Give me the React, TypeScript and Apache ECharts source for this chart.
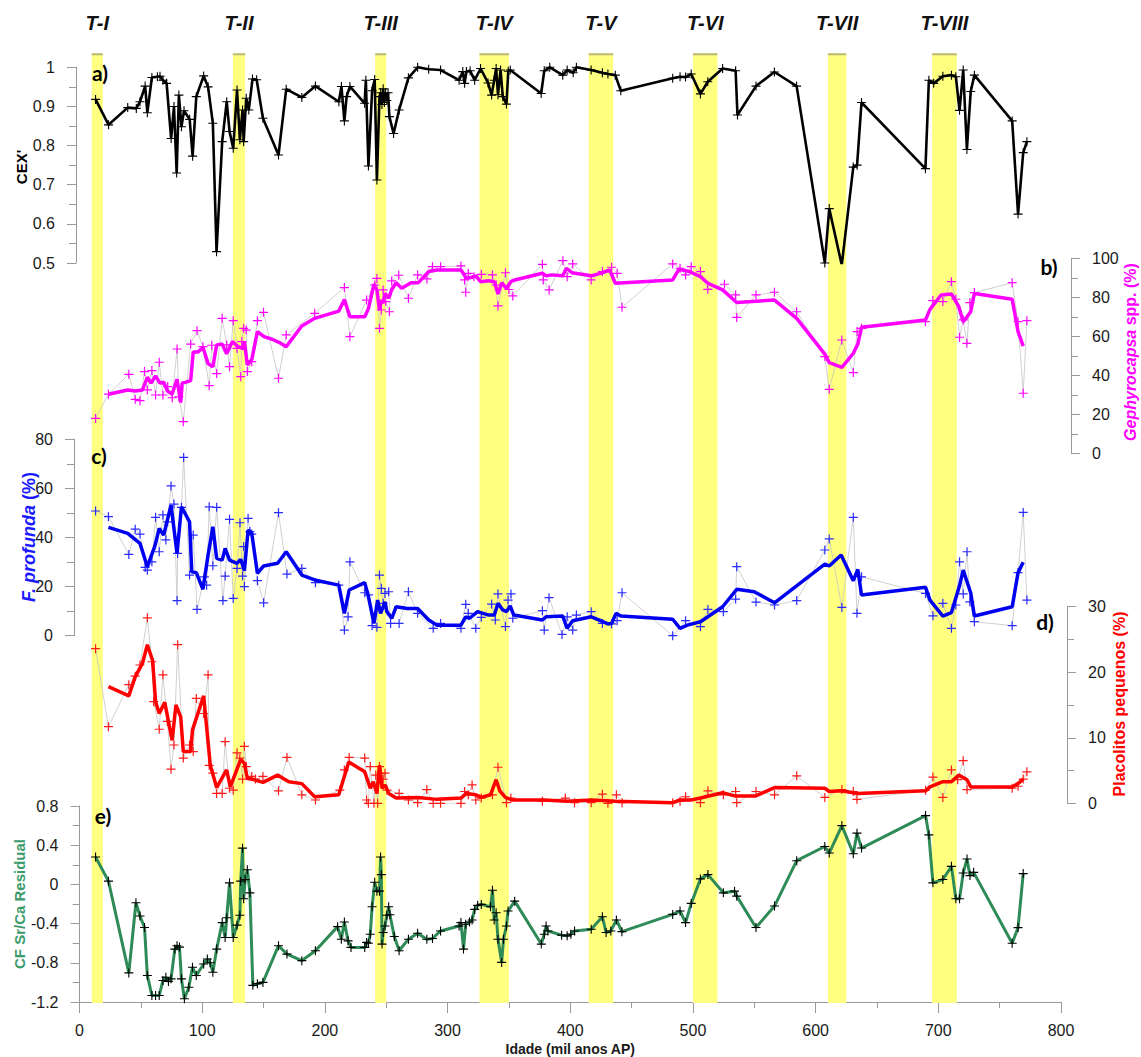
import React, { useEffect, useRef } from "react";
import * as echarts from "echarts";

// ---------- DATA ----------
const bandNames = ["T-I", "T-II", "T-III", "T-IV", "T-V", "T-VI", "T-VII", "T-VIII"];
const bandStart = [10, 125, 241, 326, 415, 500, 610, 695];
const bandEnd = [19, 135, 250, 350, 435, 520, 625, 715];

const xTickMin = 0;
const xTickMax = 800;

// a) CEX'
const cexAge = [13.1, 23.7, 39.3, 46.3, 49.3, 53.5, 55.3, 59.0, 63.5, 65.6, 68.0, 71.0, 74.7, 77.0, 79.2, 81.0, 83.1, 85.2, 89.8, 92.2, 95.2, 101.2, 104.8, 108.7, 111.7, 116.3, 120.0, 122.3, 125.3, 128.4, 130.7, 132.9, 133.8, 135.9, 138.0, 141.0, 144.4, 149.5, 162.2, 168.5, 181.2, 192.3, 211.4, 213.5, 215.9, 217.7, 220.4, 232.4, 233.4, 235.5, 238.5, 240.6, 242.4, 244.5, 245.5, 246.5, 247.5, 248.5, 249.5, 250.5, 251.5, 252.6, 256.0, 260.5, 268.1, 275.6, 284.6, 294.3, 309.4, 312.4, 313.9, 315.4, 318.4, 322.1, 326.9, 333.0, 335.9, 338.0, 339.6, 341.1, 343.2, 345.0, 348.0, 349.5, 351.1, 376.3, 378.8, 383.3, 393.9, 397.5, 402.4, 405.0, 417.0, 426.2, 430.7, 436.7, 441.2, 483.5, 489.5, 494.0, 498.6, 506.1, 512.1, 524.2, 534.8, 536.3, 551.4, 566.4, 584.5, 607.5, 611.1, 621.3, 630.7, 633.8, 637.4, 689.5, 692.3, 696.2, 703.7, 710.7, 714.3, 717.3, 720.3, 723.3, 726.4, 729.4, 760.2, 765.0, 769.2, 772.2];
const cexVal = [0.918, 0.853, 0.897, 0.895, 0.912, 0.952, 0.884, 0.974, 0.976, 0.977, 0.967, 0.959, 0.818, 0.9, 0.73, 0.929, 0.848, 0.889, 0.867, 0.773, 0.925, 0.978, 0.95, 0.857, 0.529, 0.81, 0.912, 0.836, 0.793, 0.942, 0.815, 0.891, 0.81, 0.921, 0.891, 0.97, 0.968, 0.87, 0.776, 0.944, 0.923, 0.952, 0.912, 0.951, 0.863, 0.925, 0.951, 0.908, 0.967, 0.748, 0.94, 0.969, 0.712, 0.925, 0.935, 0.905, 0.945, 0.91, 0.935, 0.915, 0.935, 0.874, 0.831, 0.891, 0.973, 1.0, 0.995, 0.993, 0.967, 0.989, 0.959, 0.989, 0.991, 0.967, 0.997, 0.96, 0.929, 0.967, 0.997, 0.93, 0.993, 0.925, 0.906, 0.99, 0.993, 0.933, 0.991, 1.0, 0.98, 0.993, 0.986, 1.0, 0.993, 0.986, 0.983, 0.98, 0.94, 0.972, 0.976, 0.975, 0.983, 0.932, 0.963, 0.997, 0.991, 0.878, 0.952, 0.988, 0.952, 0.5, 0.639, 0.495, 0.745, 0.75, 0.91, 0.741, 0.967, 0.959, 0.977, 0.98, 0.976, 0.89, 0.993, 0.79, 0.938, 0.98, 0.863, 0.625, 0.782, 0.81];

// b) Gephyrocapsa spp. (%)
const gephAge = [13.1, 23.6, 40.2, 45.4, 49.3, 53.0, 55.3, 59.0, 62.0, 65.0, 68.0, 71.9, 75.6, 79.5, 81.0, 84.6, 90.6, 95.8, 100.6, 105.7, 107.8, 111.8, 116.3, 120.0, 122.3, 125.3, 128.4, 131.4, 132.3, 133.8, 135.9, 136.8, 140.4, 145.0, 150.0, 162.2, 168.5, 191.7, 215.9, 220.4, 234.0, 240.6, 242.4, 244.5, 246.0, 247.5, 249.6, 252.6, 254.5, 260.2, 268.1, 275.6, 283.2, 287.7, 294.3, 310.9, 313.9, 314.8, 316.9, 321.5, 327.5, 336.6, 339.6, 341.1, 347.2, 350.0, 353.2, 377.3, 378.0, 382.8, 394.0, 397.5, 402.0, 417.0, 426.2, 433.7, 438.2, 442.2, 483.5, 489.5, 494.0, 498.6, 506.1, 512.1, 525.7, 534.8, 535.7, 551.4, 566.4, 584.5, 607.5, 611.1, 621.3, 630.7, 633.8, 637.4, 689.5, 695.5, 703.7, 710.7, 714.3, 717.3, 720.3, 723.3, 725.7, 729.4, 760.2, 765.0, 769.2, 772.2];
const gephVal = [17.9, 30.3, 40.5, 27.7, 27.0, 41.9, 32.5, 42.4, 29.9, 46.7, 29.9, 34.2, 28.5, 53.5, 29.0, 16.2, 56.0, 62.9, 54.7, 34.7, 55.4, 40.9, 69.2, 55.6, 44.4, 68.0, 53.8, 39.3, 57.3, 64.1, 63.2, 41.9, 47.0, 68.0, 72.3, 38.5, 60.7, 71.8, 85.0, 59.8, 78.6, 86.3, 89.7, 64.1, 73.5, 83.8, 77.8, 72.6, 88.4, 91.3, 79.5, 91.5, 89.4, 95.7, 95.7, 96.1, 88.9, 82.6, 92.3, 90.6, 91.8, 91.5, 86.3, 75.6, 92.6, 84.0, 80.7, 96.9, 88.9, 83.8, 98.8, 90.6, 97.1, 88.9, 93.2, 95.4, 92.3, 74.9, 97.1, 94.9, 91.5, 95.7, 93.2, 84.1, 86.7, 81.2, 69.7, 81.2, 82.6, 72.6, 49.6, 32.8, 58.1, 41.4, 62.4, 64.1, 67.5, 78.3, 77.8, 88.0, 79.0, 59.5, 68.4, 56.4, 77.3, 82.4, 87.5, 67.5, 30.8, 68.0];
const gephSmAge = [23.6, 39.3, 45.4, 51.4, 55.3, 58.3, 62.0, 65.6, 68.6, 71.9, 75.5, 79.5, 82.5, 83.7, 86.1, 90.6, 92.7, 96.7, 100.6, 104.8, 108.7, 111.8, 116.3, 119.9, 124.7, 129.0, 132.9, 134.4, 136.8, 140.4, 145.0, 150.4, 157.0, 163.0, 168.5, 181.2, 191.7, 211.3, 215.9, 220.4, 232.5, 235.5, 240.0, 242.4, 244.5, 246.0, 247.5, 249.0, 252.1, 254.5, 258.1, 262.6, 270.2, 276.2, 284.7, 291.3, 310.9, 315.4, 320.0, 323.0, 326.9, 333.5, 338.1, 341.1, 344.1, 348.0, 351.6, 354.7, 377.3, 380.3, 384.8, 393.9, 396.9, 401.4, 417.1, 424.6, 432.2, 436.7, 483.5, 488.6, 497.1, 506.1, 512.2, 524.2, 535.7, 566.5, 584.6, 607.5, 611.1, 621.4, 630.7, 634.4, 637.4, 689.6, 693.2, 702.3, 710.7, 716.7, 720.3, 723.4, 726.4, 729.4, 760.2, 765.0, 769.2];
const gephSmVal = [30.3, 32.5, 32.0, 32.5, 39.0, 36.0, 39.7, 36.0, 36.4, 31.8, 30.4, 38.0, 26.0, 36.0, 36.4, 37.3, 52.0, 52.0, 54.4, 46.0, 44.4, 55.6, 56.0, 51.0, 57.3, 54.7, 53.8, 57.3, 45.3, 48.0, 62.4, 59.8, 58.5, 56.8, 54.7, 65.3, 69.2, 72.9, 78.8, 70.0, 70.0, 74.2, 86.8, 83.8, 73.5, 78.6, 77.0, 82.0, 79.5, 84.0, 87.5, 84.6, 87.5, 87.5, 93.2, 94.0, 94.0, 89.7, 90.3, 91.0, 88.0, 88.5, 88.0, 81.7, 87.5, 84.6, 88.0, 88.9, 92.3, 91.0, 91.5, 91.0, 94.9, 92.6, 91.0, 92.3, 94.0, 87.2, 88.9, 94.4, 93.2, 90.6, 87.2, 83.8, 77.3, 78.6, 69.2, 50.9, 46.5, 44.1, 51.3, 56.0, 64.6, 68.4, 73.8, 81.2, 81.7, 75.2, 67.5, 70.0, 72.6, 82.0, 79.0, 62.4, 55.0];

// c) F. profunda (%)
const profAge = [13.1, 23.6, 40.2, 45.4, 49.3, 53.5, 55.3, 59.0, 62.0, 65.0, 68.0, 70.4, 71.9, 74.6, 77.0, 79.5, 80.0, 83.1, 84.9, 89.7, 92.7, 95.8, 101.8, 103.6, 105.7, 108.7, 111.8, 116.9, 118.7, 122.3, 125.3, 128.4, 130.8, 132.9, 133.8, 134.4, 137.4, 138.9, 140.4, 145.0, 150.1, 162.2, 169.1, 181.2, 192.3, 211.3, 215.9, 218.9, 220.4, 232.5, 235.5, 238.5, 242.4, 244.5, 246.0, 247.5, 249.0, 252.0, 253.6, 260.5, 268.1, 275.6, 288.3, 294.3, 310.9, 314.8, 316.9, 323.0, 327.5, 335.9, 338.9, 341.1, 347.2, 349.3, 351.7, 353.2, 377.3, 378.8, 382.7, 393.3, 397.5, 402.0, 405.0, 417.1, 426.2, 433.7, 438.2, 442.2, 483.5, 494.0, 506.1, 512.2, 524.8, 534.8, 535.7, 551.4, 566.5, 584.6, 607.5, 611.1, 621.4, 630.7, 633.7, 637.4, 689.6, 695.6, 703.7, 710.7, 714.3, 717.3, 720.3, 723.4, 725.7, 729.4, 760.2, 765.0, 769.2, 772.2];
const profVal = [50.8, 48.5, 33.1, 43.4, 41.4, 27.8, 26.7, 30.1, 48.2, 34.2, 49.2, 39.0, 46.4, 61.0, 53.6, 14.3, 33.5, 52.3, 72.6, 24.7, 41.0, 10.7, 24.0, 20.6, 52.5, 28.5, 52.3, 14.3, 24.3, 47.4, 15.2, 27.4, 46.0, 24.3, 36.3, 20.0, 47.8, 42.4, 41.4, 22.4, 13.4, 50.1, 25.1, 27.4, 21.6, 20.6, 2.3, 7.7, 30.1, 17.5, 16.6, 4.1, 3.4, 24.7, 19.3, 13.2, 17.2, 17.9, 5.0, 5.0, 17.9, 9.1, 3.0, 5.0, 3.0, 12.8, 9.1, 3.0, 7.5, 12.9, 6.4, 17.0, 3.7, 14.5, 17.0, 7.1, 10.2, 2.3, 15.5, 0.5, 7.7, 2.3, 8.4, 9.8, 5.0, 4.8, 6.1, 17.5, 0.0, 6.1, 3.7, 10.7, 9.8, 14.9, 28.1, 13.7, 12.5, 14.3, 34.9, 39.4, 11.5, 48.2, 9.1, 24.0, 17.2, 8.1, 13.2, 3.0, 12.5, 30.1, 17.0, 34.2, 13.8, 5.7, 4.1, 25.7, 50.2, 14.5];
const profSmAge = [23.6, 39.3, 49.3, 55.3, 61.4, 65.0, 68.6, 74.6, 79.5, 83.1, 89.7, 91.5, 95.2, 100.6, 104.8, 108.7, 111.8, 116.3, 118.7, 122.3, 128.4, 131.4, 134.4, 137.4, 140.4, 145.0, 150.1, 161.5, 168.5, 181.2, 191.7, 211.3, 215.9, 219.8, 232.5, 235.5, 240.0, 243.0, 245.4, 249.0, 250.5, 254.5, 258.1, 267.2, 275.6, 284.7, 291.3, 310.9, 314.8, 317.9, 324.5, 333.5, 338.1, 341.1, 345.0, 348.0, 351.0, 354.0, 377.3, 380.3, 393.9, 397.5, 402.0, 417.1, 424.6, 430.7, 433.7, 437.3, 441.2, 483.5, 489.5, 495.5, 506.1, 524.2, 535.7, 549.9, 566.5, 607.5, 611.1, 620.8, 630.7, 634.4, 637.4, 689.6, 693.2, 703.7, 710.7, 717.4, 720.3, 723.4, 726.4, 729.4, 760.2, 765.0, 769.2];
const profSmVal = [44.1, 41.7, 37.6, 28.1, 36.5, 43.7, 41.0, 53.2, 33.5, 52.5, 46.4, 26.0, 25.7, 18.9, 32.9, 44.4, 31.5, 30.8, 35.6, 30.8, 29.5, 31.1, 26.5, 43.0, 41.7, 25.4, 28.4, 29.5, 34.2, 24.7, 22.7, 20.6, 9.1, 18.6, 21.6, 15.9, 5.0, 14.5, 9.1, 13.8, 9.8, 7.1, 11.8, 11.1, 11.1, 6.4, 4.3, 4.3, 7.7, 7.1, 9.8, 8.4, 8.4, 13.2, 10.5, 9.8, 12.1, 8.4, 6.4, 7.7, 8.0, 3.0, 6.1, 7.7, 6.1, 4.8, 5.0, 9.1, 8.0, 6.7, 3.0, 4.3, 5.7, 11.8, 18.9, 17.9, 13.4, 29.2, 28.4, 32.9, 22.4, 27.0, 16.6, 19.7, 14.5, 8.0, 9.4, 20.6, 26.7, 22.0, 17.5, 8.0, 11.8, 25.7, 29.9];

// d) Placolitos pequenos (%)
const placAge = [13.1, 23.6, 40.2, 45.4, 49.3, 55.3, 59.0, 60.5, 65.0, 68.0, 71.6, 74.6, 77.0, 80.0, 84.6, 89.7, 92.7, 95.2, 101.2, 104.8, 105.7, 108.7, 111.8, 116.3, 118.7, 122.3, 125.3, 128.4, 130.7, 132.9, 134.4, 135.9, 140.4, 143.4, 149.5, 162.2, 169.1, 181.2, 192.3, 212.2, 215.9, 219.8, 232.5, 234.0, 235.5, 237.0, 240.0, 241.5, 243.0, 244.5, 246.0, 247.5, 249.0, 250.6, 260.5, 268.1, 275.6, 283.1, 288.3, 294.3, 310.9, 313.9, 316.9, 320.0, 323.0, 327.5, 336.6, 341.1, 348.0, 351.6, 377.3, 396.0, 403.5, 417.1, 426.2, 430.7, 437.6, 442.2, 483.5, 489.5, 494.0, 506.1, 512.2, 524.8, 534.8, 535.7, 551.4, 566.5, 584.6, 607.5, 621.4, 630.7, 633.7, 689.6, 695.6, 703.7, 710.7, 715.8, 720.3, 723.4, 760.2, 765.0, 769.2, 772.2];
const placVal = [23.6, 11.7, 18.1, 19.4, 21.1, 28.3, 21.6, 15.5, 11.3, 19.6, 12.5, 5.2, 8.9, 24.2, 6.9, 8.9, 7.9, 16.0, 13.7, 19.6, 5.8, 4.6, 1.5, 1.5, 9.4, 2.3, 2.0, 7.7, 6.9, 3.7, 8.7, 5.6, 4.1, 3.7, 4.1, 1.9, 7.0, 1.3, 0.5, 2.0, 5.1, 7.0, 6.9, 0.5, 0.0, 5.6, 0.0, 4.3, 0.0, 5.6, 4.6, 3.7, 4.6, 2.0, 1.5, 0.5, 0.1, 2.1, 0.0, 0.0, 0.0, 1.8, 1.3, 2.8, 0.5, 0.8, 1.3, 5.5, 0.1, 0.8, 0.3, 0.8, 0.1, 0.1, 1.4, 0.0, 1.3, 0.1, 0.1, 0.3, 1.0, 0.1, 1.9, 1.3, 1.8, 0.1, 1.8, 1.3, 4.2, 0.9, 2.1, 1.8, 0.6, 2.0, 4.0, 0.9, 5.1, 3.6, 6.5, 2.1, 2.3, 2.6, 3.7, 4.8];
const placSmAge = [23.6, 40.2, 45.4, 51.4, 55.3, 59.6, 62.0, 65.0, 69.5, 75.5, 78.6, 82.5, 84.6, 90.6, 92.1, 101.2, 106.6, 111.8, 119.9, 122.9, 131.4, 134.4, 136.8, 140.4, 149.5, 161.5, 170.6, 181.2, 191.7, 211.3, 219.5, 232.5, 237.0, 239.4, 242.4, 244.5, 246.6, 249.0, 252.1, 258.1, 276.2, 291.3, 310.9, 315.4, 323.0, 327.5, 335.0, 339.6, 342.6, 347.1, 353.2, 378.8, 397.5, 417.1, 436.7, 483.5, 489.5, 498.6, 506.1, 524.2, 534.8, 550.8, 566.5, 607.5, 611.1, 620.8, 634.4, 689.6, 693.2, 703.7, 710.7, 716.7, 723.4, 726.4, 760.2, 765.6, 769.2];
const placSmVal = [17.8, 16.4, 19.3, 21.4, 24.2, 21.8, 15.5, 13.7, 15.4, 9.6, 15.0, 13.2, 7.9, 7.9, 11.2, 16.4, 5.8, 2.4, 5.1, 2.5, 6.7, 6.1, 3.8, 3.7, 3.2, 4.3, 3.3, 3.0, 1.0, 1.3, 6.3, 4.8, 2.3, 3.3, 1.5, 5.8, 2.3, 2.8, 1.5, 0.8, 0.9, 0.6, 0.8, 1.5, 1.3, 0.9, 1.3, 3.6, 1.9, 0.9, 0.5, 0.5, 0.3, 0.5, 0.3, 0.1, 0.5, 0.5, 0.8, 1.6, 1.1, 1.1, 2.4, 2.3, 1.8, 1.9, 1.5, 1.9, 2.5, 3.3, 3.3, 4.3, 3.6, 2.5, 2.5, 3.1, 3.7];

// e) CF Sr/Ca Residual
const srcaAge = [13.1, 23.6, 40.2, 46.0, 49.3, 53.0, 55.3, 59.0, 62.0, 65.0, 68.0, 70.4, 72.5, 74.6, 77.7, 79.5, 81.5, 83.1, 85.5, 89.1, 92.1, 95.2, 101.2, 104.2, 106.5, 108.7, 111.8, 116.3, 118.7, 120.0, 122.3, 125.3, 128.4, 130.7, 131.4, 132.9, 133.8, 135.0, 136.8, 138.9, 141.3, 145.0, 149.5, 162.2, 169.1, 181.2, 192.3, 210.4, 213.4, 215.9, 218.9, 221.3, 232.5, 234.0, 235.5, 237.0, 238.5, 240.6, 242.4, 244.5, 245.4, 246.0, 246.6, 247.5, 249.0, 250.5, 252.0, 253.0, 256.6, 260.5, 268.1, 275.6, 283.1, 287.7, 294.3, 309.4, 310.9, 313.0, 314.8, 317.9, 320.0, 322.1, 324.5, 327.5, 335.0, 336.6, 338.0, 339.6, 341.1, 344.1, 345.6, 348.0, 349.3, 354.7, 376.4, 378.8, 380.3, 381.8, 393.0, 397.5, 400.5, 403.5, 417.1, 426.2, 429.2, 433.1, 437.6, 442.1, 483.5, 489.5, 494.0, 498.6, 506.1, 512.2, 524.8, 533.9, 535.7, 551.4, 566.5, 584.6, 607.5, 611.1, 621.4, 630.7, 633.7, 637.4, 689.6, 692.3, 695.6, 703.7, 710.7, 714.3, 717.3, 720.3, 723.4, 725.8, 728.8, 760.2, 765.0, 769.2];
const srcaVal = [0.279, 0.033, -0.903, -0.187, -0.322, -0.44, -0.93, -1.133, -1.133, -1.133, -0.981, -0.947, -0.99, -0.964, -0.66, -0.626, -0.64, -0.964, -1.167, -1.05, -0.846, -0.93, -0.812, -0.761, -0.8, -0.896, -0.66, -0.39, -0.542, -0.34, 0.016, -0.542, -0.416, -0.315, 0.033, 0.37, -0.147, 0.049, 0.15, -0.086, -1.03, -1.013, -1.0, -0.626, -0.711, -0.778, -0.677, -0.431, -0.559, -0.383, -0.576, -0.643, -0.643, -0.592, -0.6, -0.508, -0.228, 0.022, -0.069, -0.069, 0.279, 0.1, -0.609, -0.491, -0.424, -0.315, -0.228, -0.31, -0.532, -0.677, -0.559, -0.498, -0.559, -0.552, -0.475, -0.424, -0.39, -0.66, -0.407, -0.383, -0.363, -0.255, -0.214, -0.204, -0.228, -0.059, -0.363, -0.289, -0.559, -0.796, -0.559, -0.424, -0.272, -0.171, -0.609, -0.508, -0.424, -0.475, -0.518, -0.525, -0.508, -0.475, -0.458, -0.33, -0.491, -0.475, -0.363, -0.482, -0.306, -0.272, -0.39, -0.194, 0.056, 0.1, -0.086, -0.069, -0.12, -0.44, -0.221, 0.242, 0.387, 0.32, 0.6, 0.313, 0.523, 0.371, 0.702, 0.505, 0.016, 0.05, 0.184, -0.147, -0.147, 0.117, 0.259, 0.09, 0.123, -0.6, -0.441, 0.11];

// ---------- HELPERS ----------
const zip = (a: number[], b: number[]) => a.map((v, i) => [v, b[i]]);
const SANS = "Arial, 'Liberation Sans', Helvetica, sans-serif";
const PLUS = "path://M0,5L10,5M5,0L5,10";
const AX = "#9a9a9a";
const fmt = (v: number) => String(parseFloat(v.toFixed(2)));

function yAx(grid: number, min: number, max: number, interval: number, position: string, offset: number) {
  return {
    type: "value", gridIndex: grid, min, max, interval, position, offset,
    axisLine: { show: true, onZero: false, lineStyle: { color: AX, width: 1 } },
    axisTick: { show: true, length: 9, lineStyle: { color: AX } },
    minorTick: { show: true, splitNumber: 2, length: 7, lineStyle: { color: AX } },
    splitLine: { show: false }, minorSplitLine: { show: false },
    axisLabel: { fontSize: 16, color: "#1a1a1a", fontFamily: SANS, margin: 21, formatter: fmt },
  };
}

function hiddenX(grid: number) {
  return { type: "value", gridIndex: grid, min: xTickMin, max: xTickMax, show: false };
}

function rawSeries(idx: number, data: number[][], color: string) {
  return {
    type: "line", xAxisIndex: idx, yAxisIndex: idx, data, symbol: PLUS, symbolSize: 9, showSymbol: true,
    lineStyle: { color: "#c4c4c4", width: 0.8 },
    itemStyle: { color: color, borderColor: color, borderWidth: 1.2 },
    z: 3, silent: true,
  };
}
function smoothSeries(idx: number, data: number[][], color: string) {
  return {
    type: "line", xAxisIndex: idx, yAxisIndex: idx, data, symbol: "none", showSymbol: false,
    lineStyle: { color, width: 3.5 }, z: 4, silent: true,
  };
}

export default function App() {
  const ref = useRef<HTMLDivElement>(null);
  useEffect(() => {
    const chart = echarts.init(ref.current!, null, { renderer: "svg" });
    const L = 79.5, W = 981.5;
    const grids = [
      { left: L, width: W, top: 67.3, height: 195.7 },
      { left: L, width: W, top: 258.3, height: 195 },
      { left: L, width: W, top: 439.3, height: 196.4 },
      { left: L, width: W, top: 606.7, height: 196.6 },
      { left: L, width: W, top: 806, height: 197.3 },
      { left: L, width: W, top: 53.3, height: 949.7 },
    ];
    const bandData = bandStart.map((s, i) => [s, bandEnd[i], i]);

    const txt = (text: string, x: number, y: number, extra: any) => ({
      type: "text", x, y, silent: true, z: 100,
      style: { text, align: "center", verticalAlign: "middle", fontFamily: SANS, ...extra },
    });
    const PL = { fontSize: 21, fontWeight: "bold", fill: "#000", fontFamily: "Lato, " + SANS };

    const option: any = {
      animation: false,
      grid: grids,
      xAxis: [
        hiddenX(0), hiddenX(1), hiddenX(2), hiddenX(3),
        {
          type: "value", gridIndex: 4, min: xTickMin, max: xTickMax, interval: 100,
          axisLine: { show: true, onZero: false, lineStyle: { color: AX } },
          axisTick: { show: true, length: 11, lineStyle: { color: AX } },
          minorTick: { show: true, splitNumber: 2, length: 6, lineStyle: { color: AX } },
          splitLine: { show: false },
          axisLabel: { fontSize: 16, color: "#1a1a1a", fontFamily: SANS, margin: 20 },
          name: "Idade (mil anos AP)", nameLocation: "middle", nameGap: 40,
          nameTextStyle: { fontSize: 14, fontWeight: "bold", color: "#1a1a1a", fontFamily: SANS },
        },
        hiddenX(5),
      ],
      yAxis: [
        yAx(0, 0.5, 1, 0.1, "left", 3.5),
        yAx(1, 0, 100, 20, "right", 10),
        yAx(2, 0, 80, 20, "left", 5.5),
        yAx(3, 0, 30, 10, "right", 6),
        yAx(4, -1.2, 0.8, 0.4, "left", 0),
        { type: "value", gridIndex: 5, min: 0, max: 1, show: false },
      ],
      series: [
        {
          type: "custom", xAxisIndex: 5, yAxisIndex: 5, data: bandData, z: 1, silent: true,
          encode: { x: [0, 1] },
          renderItem: (params: any, api: any) => {
            const p0 = api.coord([api.value(0), 1]);
            const p1 = api.coord([api.value(1), 0]);
            const i = api.value(2);
            return {
              type: "group",
              children: [
                { type: "rect", shape: { x: p0[0], y: p0[1], width: p1[0] - p0[0], height: p1[1] - p0[1] }, style: { fill: "#ffff80" } },
                { type: "rect", shape: { x: p0[0], y: p0[1], width: p1[0] - p0[0], height: 2 }, style: { fill: "#b8b87c" } },
                {
                  type: "text", x: (p0[0] + p1[0]) / 2, y: p0[1] - 30,
                  style: { text: bandNames[i], fill: "#111", fontSize: 20, fontWeight: "bold", fontStyle: "italic", fontFamily: SANS, align: "center", verticalAlign: "middle" },
                },
              ],
            };
          },
        },
        {
          type: "line", xAxisIndex: 0, yAxisIndex: 0, data: zip(cexAge, cexVal), symbol: PLUS, symbolSize: 9,
          lineStyle: { color: "#000", width: 2.6 }, itemStyle: { color: "#000", borderColor: "#000", borderWidth: 1.1 }, z: 4, silent: true,
        },
        rawSeries(1, zip(gephAge, gephVal), "#ff00ff"),
        smoothSeries(1, zip(gephSmAge, gephSmVal), "#ff00ff"),
        rawSeries(2, zip(profAge, profVal), "#2a2aff"),
        smoothSeries(2, zip(profSmAge, profSmVal), "#0000f0"),
        rawSeries(3, zip(placAge, placVal), "#ff1a1a"),
        smoothSeries(3, zip(placSmAge, placSmVal), "#ff0000"),
        {
          type: "line", xAxisIndex: 4, yAxisIndex: 4, data: zip(srcaAge, srcaVal), symbol: PLUS, symbolSize: 9,
          lineStyle: { color: "#2e8b57", width: 3 }, itemStyle: { color: "#000", borderColor: "#000", borderWidth: 1.1 }, z: 4, silent: true,
        },
      ],
      graphic: {
        z: 100,
        elements: [
          txt("a)", 100, 72, PL),
          txt("b)", 1049, 266, PL),
          txt("c)", 99, 455, PL),
          txt("d)", 1045, 621, PL),
          txt("e)", 103, 815, PL),
          { ...txt("CEX'", 21, 167, { fontSize: 15, fontWeight: "bold", fill: "#000" }), rotation: Math.PI / 2 },
          {
            ...txt("{i|F. profunda} (%)", 29, 537, {
              fontSize: 18, fontWeight: "bold", fill: "#1a1aff",
              rich: { i: { fontSize: 18, fontWeight: "bold", fontStyle: "italic", fill: "#1a1aff", fontFamily: SANS } },
            }), rotation: Math.PI / 2,
          },
          { ...txt("CF Sr/Ca Residual", 19, 904, { fontSize: 15, fontWeight: "bold", fill: "#3a9a6a" }), rotation: Math.PI / 2 },
          {
            ...txt("{i|Gephyrocapsa} spp. (%)", 1130, 352, {
              fontSize: 16, fontWeight: "bold", fill: "#ff00ff",
              rich: { i: { fontSize: 16, fontWeight: "bold", fontStyle: "italic", fill: "#ff00ff", fontFamily: SANS } },
            }), rotation: Math.PI / 2,
          },
          { ...txt("Placolitos pequenos (%)", 1119, 704, { fontSize: 16, fontWeight: "bold", fill: "#ff0000" }), rotation: Math.PI / 2 },
        ],
      },
    };
    chart.setOption(option);
    return () => chart.dispose();
  }, []);
  return <div ref={ref} style={{ position: "absolute", left: 0, top: 0, width: 1141, height: 1057 }} />;
}
